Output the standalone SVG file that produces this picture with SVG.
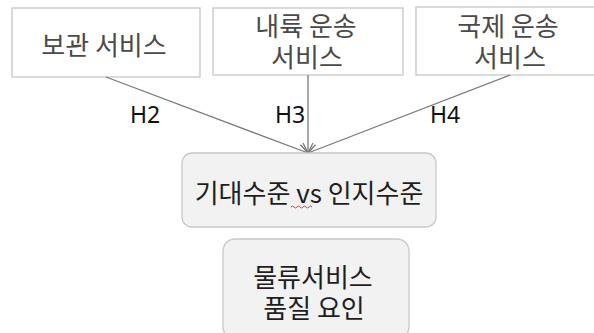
<svg xmlns="http://www.w3.org/2000/svg" width="594" height="333" viewBox="0 0 594 333">
<defs>
<style>
.top{fill:#ffffff;stroke:#c6c6c6;stroke-width:1.3}
.mid{fill:#f2f2f2;stroke:#c8c8c8;stroke-width:1.3}
.t{font-family:"Noto Sans CJK KR","Noto Sans",sans-serif;font-size:26px;text-anchor:middle}
.tt{fill:#4a4a4a}
.tm{fill:#1e1e1e}
.lab{font-family:"Noto Sans","Liberation Sans",sans-serif;font-size:23px;fill:#111111;text-anchor:middle}
.con{stroke:#7a7a7a;stroke-width:1.3;fill:none}
</style>
<marker id="arr" viewBox="0 0 12 12" refX="11" refY="6" markerWidth="12" markerHeight="12" markerUnits="userSpaceOnUse" orient="auto">
<path d="M1,1 L11,6 L1,11" fill="none" stroke="#7a7a7a" stroke-width="1.3"/>
</marker>
</defs>
<rect width="594" height="333" fill="#ffffff"/>
<g id="box1">
<rect class="top" x="12" y="8" width="188" height="69"/>
<text class="t tt" x="104" y="55">보관 서비스</text>
</g>
<g id="box2">
<rect class="top" x="213" y="8" width="190" height="67"/>
<text class="t tt" x="306" y="36">내륙 운송</text>
<text class="t tt" x="307" y="67">서비스</text>
</g>
<g id="box3">
<rect class="top" x="416" y="7" width="190" height="68"/>
<text class="t tt" x="508" y="36">국제 운송</text>
<text class="t tt" x="510" y="67">서비스</text>
</g>
<g id="connectors">
<line class="con" x1="106" y1="77" x2="308" y2="153" marker-end="url(#arr)"/>
<line class="con" x1="308" y1="75" x2="308" y2="153" marker-end="url(#arr)"/>
<line class="con" x1="510" y1="75" x2="308" y2="153" marker-end="url(#arr)"/>
<text class="lab" x="145" y="123">H2</text>
<text class="lab" x="290" y="123">H3</text>
<text class="lab" x="445" y="123">H4</text>
</g>
<g id="center">
<rect class="mid" x="182" y="153" width="254" height="74" rx="10"/>
<text class="t tm" x="309" y="203">기대수준 vs 인지수준</text>
<path d="M291,207 q1.5,-2 3,0 t3,0 t3,0 t3,0 t3,0 t3,0 t3,0" fill="none" stroke="#e03030" stroke-width="0.9"/>
</g>
<g id="bottom">
<rect class="mid" x="223" y="239" width="186" height="100" rx="12"/>
<text class="t tm" x="313" y="287">물류서비스</text>
<text class="t tm" x="314" y="318">품질 요인</text>
</g>
</svg>
